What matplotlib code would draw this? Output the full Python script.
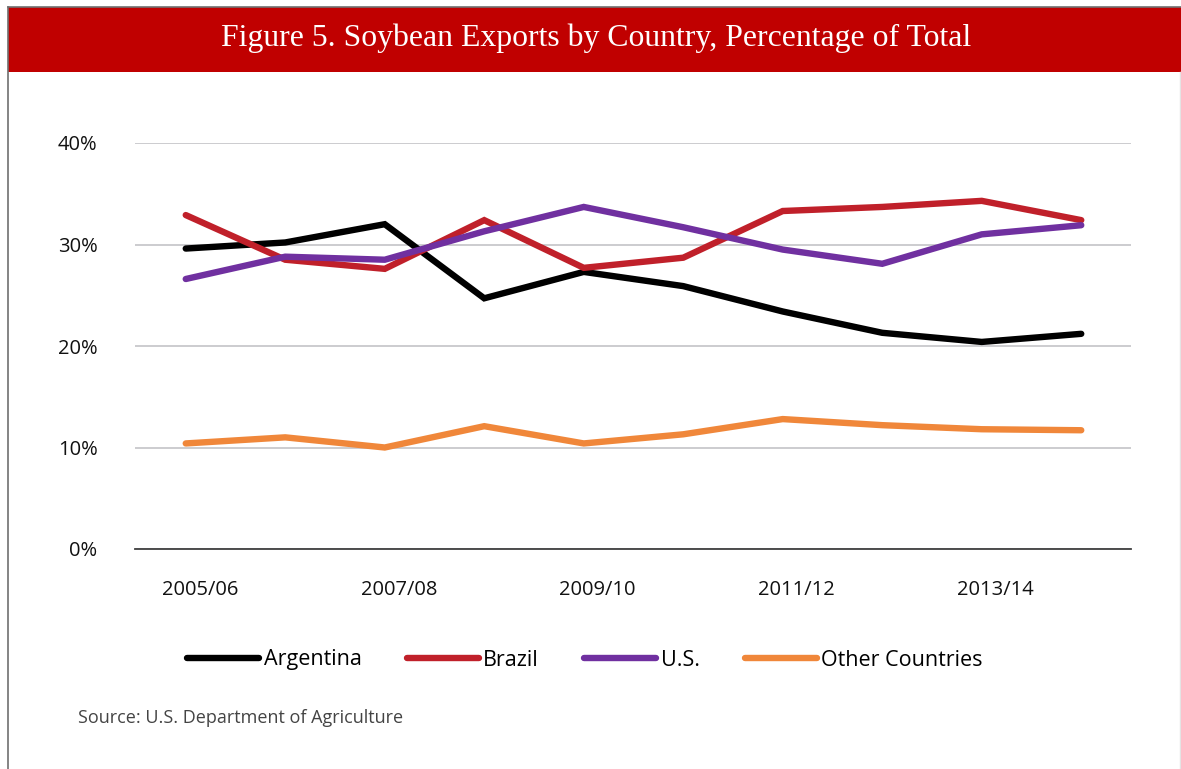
import matplotlib.pyplot as plt
import matplotlib.transforms as mtransforms
from matplotlib.patches import Rectangle
from matplotlib.lines import Line2D

years = ["2005/06", "2006/07", "2007/08", "2008/09", "2009/10",
         "2010/11", "2011/12", "2012/13", "2013/14", "2014/15"]
argentina = [29.6, 30.2, 32.0, 24.7, 27.3, 25.9, 23.4, 21.3, 20.4, 21.2]
brazil = [32.9, 28.5, 27.6, 32.4, 27.7, 28.7, 33.3, 33.7, 34.3, 32.4]
us = [26.6, 28.8, 28.5, 31.3, 33.7, 31.7, 29.5, 28.1, 31.0, 31.9]
other = [10.4, 11.0, 10.0, 12.1, 10.4, 11.3, 12.8, 12.2, 11.8, 11.7]

series = [("Argentina", argentina, "#000000"),
          ("Brazil", brazil, "#C0202A"),
          ("U.S.", us, "#7030A0"),
          ("Other Countries", other, "#F0873A")]

plt.rcParams['font.family'] = ['Open Sans', 'DejaVu Sans']

fig = plt.figure(figsize=(11.81, 7.69), dpi=100)
W, H = 1181, 769

# frame: dark top/left, light right edge
fig.add_artist(Line2D([7.5 / W, 7.5 / W], [0, 1 - 6.5 / H], transform=fig.transFigure,
                      color="#707070", linewidth=1.2))
fig.add_artist(Line2D([7.5 / W, 1], [1 - 6.5 / H, 1 - 6.5 / H], transform=fig.transFigure,
                      color="#707070", linewidth=1.2))
fig.add_artist(Line2D([1179.5 / W, 1179.5 / W], [0, 1 - 72 / H], transform=fig.transFigure,
                      color="#E4E4E4", linewidth=1.0))
fig.patches.append(Rectangle((8 / W, 1 - 72 / H), 1 - 8 / W, 65 / H, transform=fig.transFigure,
                             facecolor="#C00000", edgecolor="none"))
fig.text(0.505, 1 - 38 / H, "Figure 5. Soybean Exports by Country, Percentage of Total",
         color="white", fontsize=22.9, ha="center", va="center", family="Liberation Serif")

ax = fig.add_axes([135 / W, 1 - 549 / H, (1131 - 135) / W, (549 - 143) / H])
x = list(range(len(years)))
for name, vals, col in series:
    ax.plot(x, [v / 100 for v in vals], color=col, linewidth=4.6, label=name,
            solid_capstyle="round", solid_joinstyle="miter", zorder=3)

ax.set_xlim(-0.51, 9.5)
ax.set_ylim(0, 0.4)
ax.set_yticks([0, 0.1, 0.2, 0.3, 0.4])
ax.set_yticklabels(["0%", "10%", "20%", "30%", "40%"])
ax.set_xticks(x[::2])
ax.set_xticklabels(years[::2])
ax.grid(axis="y", color="#C8C8CC", linewidth=1.3)
ax.set_axisbelow(True)
for s in ["top", "right", "left"]:
    ax.spines[s].set_visible(False)
ax.spines["bottom"].set_color("#404040")
ax.spines["bottom"].set_linewidth(1.3)
ax.spines["bottom"].set_zorder(2)
ax.tick_params(axis="both", length=0, labelsize=14.5, colors="#111111")
ax.tick_params(axis="y", pad=27)
ax.tick_params(axis="x", pad=22)
# category labels sit a little right of their points in the original
shift = mtransforms.ScaledTranslation(0.14, 0, fig.dpi_scale_trans)
for lab in ax.get_xticklabels():
    lab.set_transform(lab.get_transform() + shift)

handles = [Line2D([], [], color=c, linewidth=4.6, solid_capstyle="round") for _, _, c in series]
fig.legend(handles, [n for n, _, _ in series], loc="center", bbox_to_anchor=(585 / W, 1 - 660 / H),
           ncol=4, frameon=False, fontsize=15.5, handlelength=3.35, handletextpad=0.2,
           columnspacing=2.1)

fig.text(78 / W, 1 - 718 / H, "Source: U.S. Department of Agriculture", fontsize=13,
         color="#444444", ha="left", va="center")

fig.savefig("out.png", dpi=100)
